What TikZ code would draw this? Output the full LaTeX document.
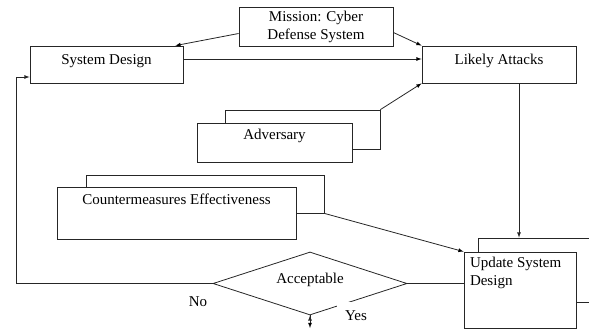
\documentclass[tikz,border=0pt]{standalone}
\usepackage{fontspec}
\setmainfont{Liberation Serif}
\usetikzlibrary{arrows,shapes.geometric}

\begin{document}
\begin{tikzpicture}[x=1pt,y=-1pt,>=latex,line width=0.8pt,font=\fontsize{15}{18}\selectfont]
  \tikzstyle{block}=[draw=black!85,fill=white,rectangle,inner sep=0pt]
  \tikzstyle{decision}=[draw=black!85,diamond,aspect=3,inner sep=0pt]
  \tikzstyle{link}=[->,draw=black!85]

  \useasboundingbox (0,0) rectangle (589,329);
  \clip (0,0) rectangle (589,329);

  % back boxes first, the front ones cover them
  \node[block,minimum width=155,minimum height=39] (advback) at (302.5,129.5) {};
  \node[block,minimum width=238,minimum height=38] (cmback)  at (205,194) {};
  \node[block,minimum width=162,minimum height=64] (updback) at (559,270) {};

  \node[block,align=center,minimum width=154,minimum height=39] (mission) at (316,26.5) {Mission: Cyber\\Defense System};
  \node[block,minimum width=153,minimum height=37,text height=19pt,text depth=18pt] (sysdesign) at (106.5,64.5) {System Design};
  \node[block,minimum width=154,minimum height=37,text height=18pt,text depth=19pt] (likely) at (499,64.5) {Likely Attacks};
  \node[block,minimum width=155,minimum height=39,text height=16pt,text depth=23pt] (adversary) at (274.5,142.5) {Adversary};
  \node[block,minimum width=239,minimum height=52,text height=17pt,text depth=35pt] (counter) at (176.5,213) {Countermeasures Effectiveness};
  \node[block,minimum width=112,minimum height=76] (update) at (520,290) {};
  \node[anchor=north west,align=left,inner sep=0pt] (updtext) at ([xshift=6pt,yshift=-5pt]update.north west) {Update System\\Design};

  \node[decision,minimum width=194,minimum height=63,text height=11pt,text depth=11pt] (accept) at (310,283.5) {Acceptable};

  \coordinate (loop) at (16,77);
  \coordinate (exit) at (310,328);

  \path[link] ([yshift=-7pt]mission.west) edge ([xshift=-8pt]sysdesign.north east)
              ([yshift=-6pt]mission.east) edge (likely.north west)
              ([yshift=5.5pt]sysdesign.east) edge ([yshift=5.5pt]likely.west)
              (advback.north east) edge (likely.south west)
              (cmback.south east) edge (update.north west)
              (accept.south) edge (exit);
  \draw[link] ([xshift=20pt]likely.south) -- ([xshift=20pt]likely.south |- updback.north);
  \draw[draw=black!85] (accept.east) -- (accept.east -| update.west);
  \draw[link] (accept.west) -| (loop) -- (sysdesign.west |- loop);

  \node at (198,302) (no) {No};
  \node[fill=white,minimum width=38pt,minimum height=28pt,inner sep=0pt] (yes) at (356,316) {Yes};
\end{tikzpicture}
\end{document}
